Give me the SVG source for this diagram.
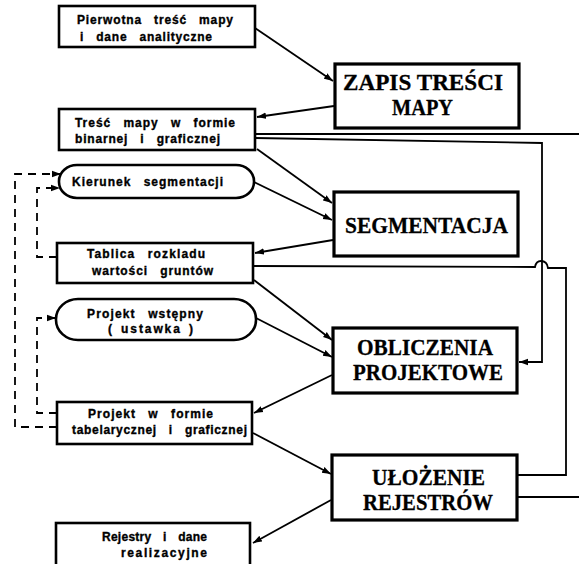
<svg xmlns="http://www.w3.org/2000/svg" width="579" height="564" viewBox="0 0 579 564">
<style>
.bg{fill:#ffffff}
.sbox{fill:#ffffff;stroke:#000;stroke-width:2.6}
.bbox{fill:#ffffff;stroke:#000;stroke-width:3.2}
.st{font-family:"Liberation Sans",Arial,sans-serif;font-weight:bold;font-size:12px;word-spacing:8px;fill:#000;stroke:#000;stroke-width:0.35}
.bt{font-family:"Liberation Serif","Times New Roman",serif;font-weight:bold;font-size:24px;fill:#000;stroke:#000;stroke-width:0.3}
.ln{fill:none;stroke:#000;stroke-width:1.8}
.dl{fill:none;stroke:#000;stroke-width:1.8;stroke-dasharray:8 6}
</style>
<defs>
<marker id="ah" markerUnits="userSpaceOnUse" markerWidth="10" markerHeight="8" refX="9" refY="4" orient="auto">
<path d="M0,0.8 L9,4 L0,7.2 Z" fill="#000"/>
</marker>
</defs>
<rect class="bg" x="0" y="0" width="579" height="564"/>

<g id="connectors">
<path class="ln" d="M255,28 L333,81" marker-end="url(#ah)"/>
<path class="ln" d="M334,106 L257,117" marker-end="url(#ah)"/>
<path class="ln" d="M255,134 L579,134"/>
<path class="ln" d="M255,138 L542,143 L542,362 L519,362" marker-end="url(#ah)"/>
<path class="ln" d="M257,149 L332,203" marker-end="url(#ah)"/>
<path class="ln" d="M254,182 L332,220" marker-end="url(#ah)"/>
<path class="ln" d="M333,240 L255,253" marker-end="url(#ah)"/>
<path class="ln" d="M254,266 L535,267 Q536,261 541,261 Q547,261 548,268 L566,268 L566,475 L518,475"/>
<path class="ln" d="M254,280 L332,340" marker-end="url(#ah)"/>
<path class="ln" d="M256,318 L332,357" marker-end="url(#ah)"/>
<path class="ln" d="M332,375 L254,413" marker-end="url(#ah)"/>
<path class="ln" d="M253,433 L331,474" marker-end="url(#ah)"/>
<path class="ln" d="M331,500 L253,543" marker-end="url(#ah)"/>
<path class="ln" d="M518,497 L579,497"/>
<path class="dl" d="M57,257 L37,257 L37,188 L60,188" marker-end="url(#ah)"/>
<path class="dl" d="M57,427 L15,427 L15,174 L61,174" marker-end="url(#ah)"/>
<path class="dl" d="M57,413 L37,413 L37,318 L56,318" marker-end="url(#ah)"/>
</g>

<g id="pierwotna">
<rect class="sbox" x="59" y="6" width="196" height="41"/>
<text class="st" x="77" y="24" textLength="156" lengthAdjust="spacing">Pierwotna treść mapy</text>
<text class="st" x="80" y="41" textLength="132" lengthAdjust="spacing">i dane analityczne</text>
</g>

<g id="zapis">
<rect class="bbox" x="335" y="64" width="184" height="64"/>
<text class="bt" x="343" y="90" textLength="160" lengthAdjust="spacingAndGlyphs">ZAPIS TREŚCI</text>
<text class="bt" x="392" y="115" textLength="61" lengthAdjust="spacingAndGlyphs">MAPY</text>
</g>

<g id="tresc">
<rect class="sbox" x="59" y="109" width="196" height="41"/>
<text class="st" x="75" y="127" textLength="160" lengthAdjust="spacing">Treść mapy w formie</text>
<text class="st" x="75" y="143" textLength="145" lengthAdjust="spacing">binarnej i graficznej</text>
</g>

<g id="kierunek">
<rect class="sbox" x="59" y="165" width="195" height="33" rx="18" ry="16"/>
<text class="st" x="72" y="186" textLength="151" lengthAdjust="spacing">Kierunek segmentacji</text>
</g>

<g id="segmentacja">
<rect class="bbox" x="334" y="192" width="184" height="64"/>
<text class="bt" x="345" y="233" textLength="163" lengthAdjust="spacingAndGlyphs">SEGMENTACJA</text>
</g>

<g id="tablica">
<rect class="sbox" x="57" y="243" width="196" height="40"/>
<text class="st" x="87" y="258" textLength="118" lengthAdjust="spacing">Tablica rozkladu</text>
<text class="st" x="92" y="275" textLength="121" lengthAdjust="spacing">wartości gruntów</text>
</g>

<g id="projekt-wstepny">
<rect class="sbox" x="56" y="299" width="200" height="41" rx="22" ry="20"/>
<text class="st" x="87" y="318" textLength="116" lengthAdjust="spacing">Projekt wstępny</text>
<text class="st" x="108" y="333" style="word-spacing:2px" textLength="85" lengthAdjust="spacing">( ustawka )</text>
</g>

<g id="obliczenia">
<rect class="bbox" x="333" y="328" width="184" height="65"/>
<text class="bt" x="357" y="355" textLength="136" lengthAdjust="spacingAndGlyphs">OBLICZENIA</text>
<text class="bt" x="353" y="380" textLength="150" lengthAdjust="spacingAndGlyphs">PROJEKTOWE</text>
</g>

<g id="projekt-forma">
<rect class="sbox" x="57" y="402" width="195" height="42"/>
<text class="st" x="88" y="418" textLength="125" lengthAdjust="spacing">Projekt w formie</text>
<text class="st" x="72" y="434" textLength="175" lengthAdjust="spacing">tabelarycznej i graficznej</text>
</g>

<g id="ulozenie">
<rect class="bbox" x="332" y="455" width="185" height="65"/>
<text class="bt" x="372" y="485" textLength="113" lengthAdjust="spacingAndGlyphs">UŁOŻENIE</text>
<text class="bt" x="363" y="510" textLength="130" lengthAdjust="spacingAndGlyphs">REJESTRÓW</text>
</g>

<g id="rejestry">
<rect class="sbox" x="56" y="523" width="194" height="46"/>
<text class="st" x="102" y="541" textLength="105" lengthAdjust="spacing">Rejestry i dane</text>
<text class="st" x="121" y="557" textLength="86" lengthAdjust="spacing">realizacyjne</text>
</g>
</svg>
